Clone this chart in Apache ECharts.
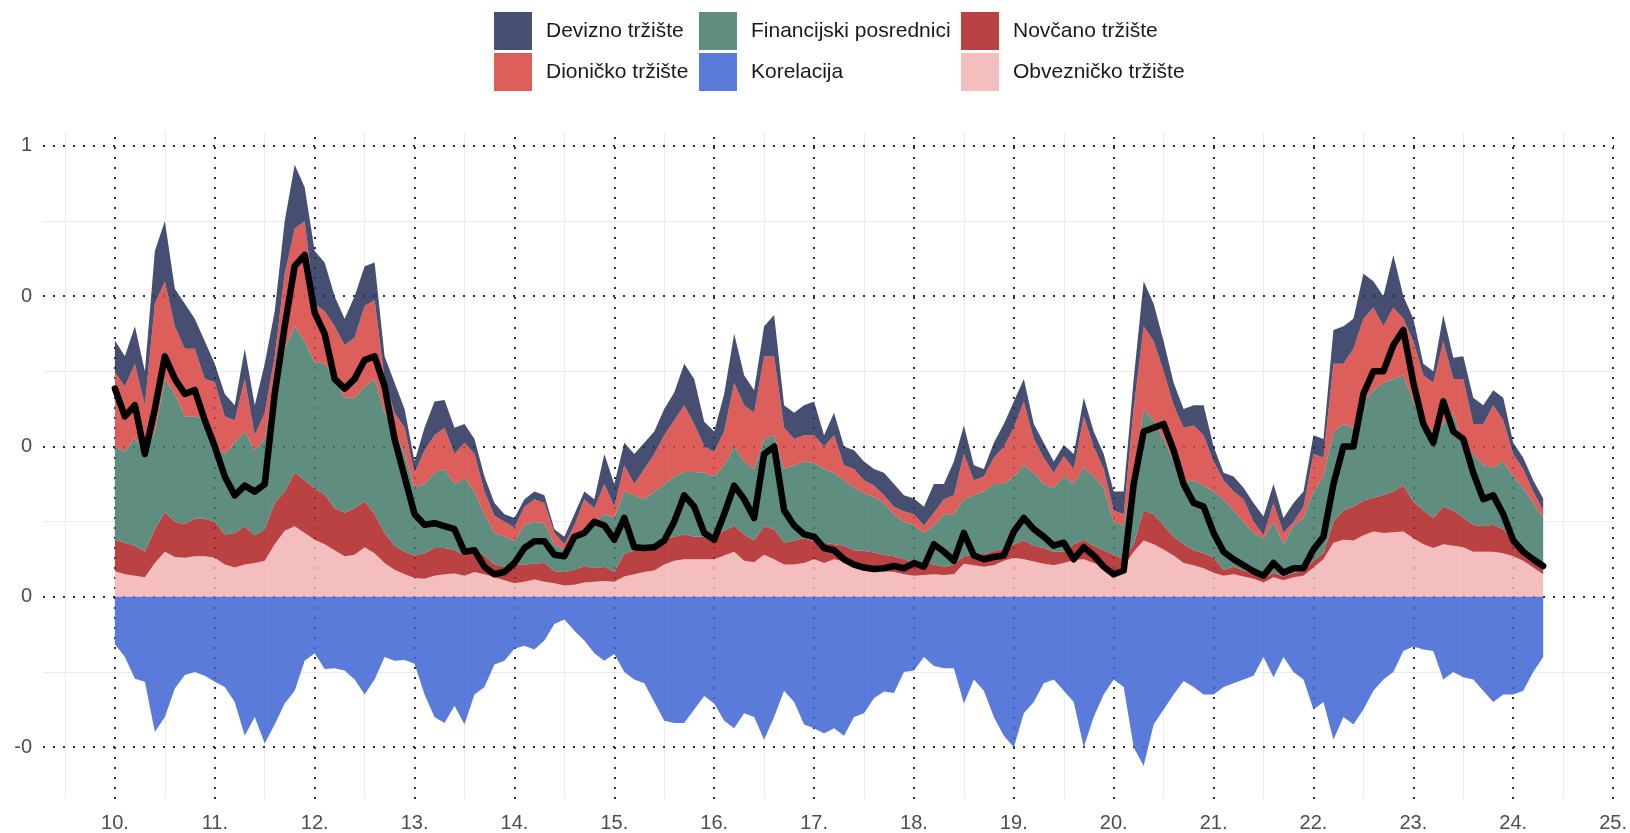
<!DOCTYPE html>
<html>
<head>
<meta charset="utf-8">
<title>Pokazatelj sistemskog stresa</title>
<script src="https://cdn.jsdelivr.net/npm/echarts@6/dist/echarts.min.js"></script>
<style>
  html, body { margin: 0; padding: 0; background: #fff; }
  #chart { width: 1630px; height: 833px; }
</style>
</head>
<body>
<div id="chart"></div>
<script>
// sampling of the series: every 0.1 year from 2010.0
const startYear = 2010;
const step = 0.1;

// stacked contributions (bottom to top)
const obveznicko = [
  .034, .030, .028, .026, .045, .060, .053, .052, .054, .054,
  .052, .043, .039, .043, .045, .048, .070, .088, .094, .085,
  .076, .070, .062, .054, .056, .066, .058, .045, .036, .030,
  .025, .024, .028, .030, .031, .028, .033, .030, .026, .022,
  .018, .020, .023, .020, .018, .015, .016, .019, .020, .021,
  .020, .027, .030, .033, .035, .043, .048, .050, .050, .050,
  .050, .055, .060, .048, .046, .056, .050, .043, .043, .045,
  .050, .045, .050, .047, .043, .040, .036, .034, .033, .030,
  .028, .029, .030, .029, .030, .044, .042, .040, .042, .048,
  .052, .050, .047, .044, .042, .045, .049, .050, .045, .040,
  .034, .040, .060, .075, .070, .063, .055, .045, .042, .038,
  .032, .028, .030, .027, .024, .019, .026, .022, .026, .028,
  .039, .050, .072, .076, .075, .082, .087, .085, .086, .087,
  .078, .070, .065, .070, .068, .066, .060, .060, .060, .058,
  .054, .048, .039, .030
];
const novcano = [
  .042, .042, .040, .034, .045, .053, .047, .045, .050, .050,
  .048, .040, .046, .051, .037, .042, .055, .052, .071, .070,
  .068, .066, .056, .058, .062, .061, .052, .040, .032, .030,
  .030, .034, .037, .035, .031, .027, .029, .025, .017, .018,
  .025, .023, .021, .025, .016, .018, .020, .022, .018, .019,
  .013, .030, .032, .032, .033, .034, .032, .033, .030, .030,
  .033, .033, .035, .035, .029, .038, .040, .029, .032, .033,
  .024, .027, .020, .021, .019, .021, .023, .022, .021, .020,
  .017, .016, .013, .011, .013, .010, .014, .017, .019, .016,
  .018, .025, .021, .021, .018, .015, .021, .026, .023, .022,
  .022, .010, .010, .040, .040, .032, .025, .025, .020, .020,
  .020, .008, .010, .008, .006, .005, .006, .005, .006, .006,
  .009, .008, .028, .039, .045, .046, .045, .050, .054, .061,
  .049, .045, .040, .050, .047, .039, .036, .034, .036, .032,
  .024, .017, .013, .011
];
const financijski = [
  .124, .121, .144, .130, .130, .177, .170, .143, .136, .133,
  .100, .107, .120, .126, .113, .120, .160, .190, .195, .185,
  .168, .174, .172, .153, .147, .153, .180, .160, .152, .130,
  .090, .092, .100, .105, .088, .103, .078, .055, .042, .040,
  .031, .053, .056, .053, .036, .030, .044, .049, .062, .070,
  .072, .083, .073, .065, .072, .072, .080, .083, .086, .085,
  .077, .087, .105, .097, .095, .116, .125, .098, .100, .102,
  .104, .098, .095, .087, .083, .077, .074, .069, .056, .050,
  .050, .040, .052, .070, .067, .076, .079, .083, .089, .086,
  .090, .100, .097, .085, .085, .100, .080, .096, .092, .083,
  .044, .045, .090, .135, .125, .115, .100, .082, .093, .090,
  .088, .094, .075, .065, .055, .054, .068, .043, .063, .071,
  .092, .102, .120, .115, .105, .132, .143, .150, .150, .147,
  .133, .115, .115, .110, .130, .095, .094, .081, .076, .090,
  .082, .080, .073, .064
];
const dionicko = [
  .099, .087, .098, .065, .170, .130, .090, .090, .090, .053,
  .086, .050, .030, .070, .020, .035, .035, .100, .130, .160,
  .078, .070, .070, .070, .080, .107, .105, .045, .025, .035,
  .020, .045, .050, .055, .040, .047, .050, .030, .023, .020,
  .018, .024, .030, .027, .015, .007, .015, .040, .018, .040,
  .015, .035, .015, .040, .050, .066, .075, .089, .064, .035,
  .033, .045, .085, .075, .075, .110, .105, .055, .035, .035,
  .037, .030, .050, .020, .025, .017, .015, .010, .010, .014,
  .015, .010, .017, .020, .025, .060, .020, .020, .035, .050,
  .065, .085, .045, .035, .020, .027, .020, .068, .040, .025,
  .015, .015, .090, .110, .105, .090, .075, .073, .073, .067,
  .040, .025, .025, .030, .015, .004, .025, .015, .005, .015,
  .050, .025, .090, .080, .105, .110, .110, .075, .095, .075,
  .080, .065, .065, .110, .045, .090, .040, .055, .083, .055,
  .030, .025, .015, .010
];
const devizno = [
  .042, .040, .050, .045, .070, .080, .050, .060, .040, .050,
  .024, .030, .020, .040, .040, .065, .060, .070, .085, .045,
  .070, .065, .040, .035, .055, .053, .050, .030, .040, .025,
  .015, .030, .045, .037, .035, .025, .020, .020, .017, .010,
  .013, .010, .010, .010, .005, .010, .015, .010, .012, .040,
  .030, .030, .040, .035, .030, .035, .037, .055, .060, .033,
  .027, .050, .065, .040, .030, .040, .055, .030, .035, .040,
  .045, .015, .030, .025, .025, .025, .022, .030, .030, .021,
  .021, .025, .038, .020, .045, .038, .020, .010, .020, .030,
  .035, .030, .020, .020, .015, .015, .020, .025, .020, .020,
  .025, .030, .040, .060, .050, .040, .030, .025, .027, .040,
  .020, .010, .020, .015, .025, .025, .025, .020, .025, .020,
  .025, .025, .045, .050, .040, .060, .035, .040, .070, .030,
  .030, .015, .015, .035, .028, .030, .035, .025, .020, .030,
  .015, .015, .015, .016
];
// correlation term (negative)
const korelacija = [
  -.063, -.080, -.109, -.113, -.180, -.160, -.122, -.104, -.100, -.105,
  -.113, -.120, -.140, -.185, -.160, -.195, -.170, -.142, -.125, -.085,
  -.075, -.096, -.095, -.098, -.110, -.130, -.110, -.080, -.085, -.084,
  -.089, -.130, -.160, -.168, -.145, -.170, -.130, -.120, -.090, -.085,
  -.069, -.065, -.070, -.058, -.036, -.030, -.045, -.058, -.075, -.085,
  -.076, -.100, -.110, -.115, -.140, -.165, -.168, -.168, -.150, -.132,
  -.142, -.165, -.175, -.155, -.160, -.190, -.160, -.125, -.140, -.170,
  -.175, -.182, -.175, -.185, -.160, -.155, -.135, -.126, -.128, -.100,
  -.098, -.080, -.092, -.095, -.095, -.142, -.110, -.125, -.160, -.185,
  -.200, -.155, -.140, -.115, -.110, -.125, -.140, -.200, -.160, -.130,
  -.110, -.120, -.200, -.225, -.170, -.150, -.130, -.112, -.120, -.130,
  -.130, -.120, -.115, -.110, -.105, -.080, -.107, -.080, -.100, -.110,
  -.150, -.140, -.190, -.160, -.170, -.150, -.125, -.110, -.100, -.072,
  -.066, -.070, -.072, -.110, -.100, -.107, -.110, -.125, -.140, -.130,
  -.130, -.125, -.100, -.080
];
// composite index (black line)
const indeks = [
  .277, .240, .255, .190, .250, .320, .290, .270, .275, .235,
  .200, .160, .135, .148, .140, .150, .270, .360, .440, .455,
  .378, .350, .290, .277, .290, .315, .320, .280, .210, .160,
  .110, .096, .098, .094, .090, .060, .062, .040, .030, .033,
  .045, .065, .074, .074, .056, .054, .080, .085, .100, .095,
  .076, .105, .066, .065, .066, .075, .100, .135, .120, .085,
  .076, .110, .148, .130, .105, .190, .200, .115, .095, .083,
  .080, .065, .062, .050, .043, .039, .037, .038, .041, .038,
  .045, .040, .070, .060, .048, .085, .055, .050, .053, .055,
  .087, .105, .090, .080, .068, .072, .050, .066, .055, .040,
  .030, .035, .150, .220, .225, .230, .195, .150, .125, .120,
  .085, .060, .050, .042, .034, .028, .045, .032, .038, .038,
  .063, .080, .150, .200, .200, .270, .300, .300, .335, .355,
  .285, .230, .205, .260, .220, .210, .165, .130, .135, .110,
  .075, .060, .050, .041
];

const yearTicks = [2010, 2011, 2012, 2013, 2014, 2015, 2016, 2017, 2018, 2019, 2020, 2021, 2022, 2023, 2024, 2025];
const halfYears = [2009.5, 2010.5, 2011.5, 2012.5, 2013.5, 2014.5, 2015.5, 2016.5, 2017.5, 2018.5, 2019.5, 2020.5, 2021.5, 2022.5, 2023.5, 2024.5];
const yTicks = [0.6, 0.4, 0.2, 0, -0.2];
const yMinor = [0.5, 0.3, 0.1, -0.1];

const xs = obveznicko.map((_, i) => +(startYear + i * step).toFixed(2));
// value first, year second: the stack then runs on the value dimension
const pairs = (arr) => arr.map((v, i) => [v, xs[i]]);

const names = {
  dev: 'Devizno tržište',
  dion: 'Dioničko tržište',
  fin: 'Financijski posrednici',
  kor: 'Korelacija',
  nov: 'Novčano tržište',
  obv: 'Obvezničko tržište'
};
// colours as seen on white, and the base colours drawn with opacity
const seen = {
  dev: '#474f72', dion: '#dc5f5c', fin: '#5f8e80',
  kor: '#5b7bdb', nov: '#bb4242', obv: '#f5bebe'
};
const base = {
  dev: '#263059', dion: '#d6433f', fin: '#437a6a',
  kor: '#3e64d5', nov: '#af2121', obv: '#f3b3b3'
};
const areaAlpha = 0.85;

const font = '"Liberation Sans", Arial, sans-serif';
const dotted = { color: '#262b3d', width: 2, type: [2, 8] };
const minor = { color: '#ebebeb', width: 1, type: 'solid' };

function area (key, data) {
  return {
    name: names[key],
    type: 'line',
    stack: key === 'kor' ? undefined : 'total',
    data: pairs(data),
    encode: { x: 1, y: 0 },
    symbol: 'none',
    smooth: false,
    z: 3,
    color: base[key],
    lineStyle: { width: 0 },
    areaStyle: { color: base[key], opacity: areaAlpha },
    emphasis: { disabled: true },
    animation: false
  };
}

const gridLines = [];
halfYears.forEach(x => gridLines.push({ xAxis: x, lineStyle: minor }));
yMinor.forEach(y => gridLines.push({ yAxis: y, lineStyle: minor }));
yearTicks.forEach(x => gridLines.push({ xAxis: x, lineStyle: dotted }));
yTicks.forEach(y => gridLines.push({ yAxis: y, lineStyle: dotted }));

function legendColumn (left, keys) {
  return {
    orient: 'vertical',
    left: left,
    top: 12,
    padding: 0,
    itemWidth: 38,
    itemHeight: 38,
    itemGap: 3,
    icon: 'rect',
    selectedMode: false,
    data: keys.map(k => ({ name: names[k], itemStyle: { color: seen[k], opacity: 1 } })),
    textStyle: { fontFamily: font, fontSize: 21, color: '#1a1a1a', padding: [0, 0, 0, 9] }
  };
}

const chart = echarts.init(document.getElementById('chart'));
chart.setOption({
  backgroundColor: '#ffffff',
  animation: false,
  legend: [
    legendColumn(494, ['dev', 'dion']),
    legendColumn(699, ['fin', 'kor']),
    legendColumn(961, ['nov', 'obv'])
  ],
  grid: { left: 43, right: 14, top: 132, bottom: 30, containLabel: false },
  xAxis: {
    type: 'value',
    min: 2009.28,
    max: 2025.01,
    axisLine: { show: false },
    axisTick: { show: false },
    splitLine: { show: false },
    axisLabel: {
      customValues: yearTicks,
      formatter: v => String(Math.round(v) % 100) + '.',
      fontFamily: font,
      fontSize: 20,
      color: '#4d4d4d',
      margin: 14
    }
  },
  yAxis: {
    type: 'value',
    min: -0.269,
    max: 0.6185,
    axisLine: { show: false },
    axisTick: { show: false },
    splitLine: { show: false },
    axisLabel: {
      customValues: yTicks,
      formatter: v => (v < 0 ? '-' : '') + Math.abs(Math.round(v)),
      fontFamily: font,
      fontSize: 20,
      color: '#4d4d4d',
      margin: 11
    }
  },
  series: [
    {
      name: 'grid',
      type: 'line',
      data: [[2010, 0]],
      symbol: 'none',
      lineStyle: { opacity: 0 },
      silent: true,
      z: 1,
      markLine: {
        silent: true,
        z: 1,
        symbol: ['none', 'none'],
        label: { show: false },
        animation: false,
        data: gridLines
      }
    },
    area('obv', obveznicko),
    area('nov', novcano),
    area('fin', financijski),
    area('dion', dionicko),
    area('dev', devizno),
    area('kor', korelacija),
    {
      name: 'indeks',
      type: 'line',
      data: pairs(indeks),
      encode: { x: 1, y: 0 },
      symbol: 'none',
      z: 5,
      lineStyle: { color: '#000000', width: 6.5, join: 'round', cap: 'round' },
      emphasis: { disabled: true }
    }
  ]
});
</script>
</body>
</html>
